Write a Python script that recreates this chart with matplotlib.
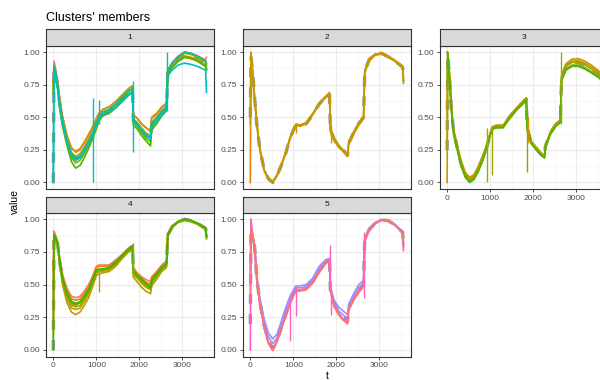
import matplotlib
matplotlib.use("Agg")
import matplotlib.pyplot as plt
from matplotlib.ticker import MultipleLocator

plt.rcParams['font.family'] = ['Liberation Sans', 'DejaVu Sans']

# shared time grid
T = [0, 15, 50, 100, 150, 220, 320, 420, 520, 620, 720, 820, 920, 1000, 1060, 1150,
     1300, 1450, 1600, 1750, 1840, 1860, 1950, 2050, 2150, 2260, 2285, 2400, 2520,
     2630, 2660, 2760, 2900, 3050, 3200, 3350, 3540, 3560]

# ---- cluster 1
p1_salmon = [0.75, 0.93, 0.88, 0.78, 0.64, 0.50, 0.36, 0.27, 0.23, 0.25, 0.30, 0.36, 0.43, 0.49, 0.53, 0.56, 0.58, 0.62, 0.67, 0.72,
             0.74, 0.52, 0.49, 0.45, 0.42, 0.39, 0.49, 0.52, 0.57, 0.60, 0.86, 0.92, 0.97, 1.00, 0.99, 0.97, 0.94, 0.96]
p1_olive = [0.70, 0.90, 0.86, 0.77, 0.63, 0.49, 0.35, 0.26, 0.24, 0.26, 0.31, 0.37, 0.43, 0.49, 0.53, 0.56, 0.58, 0.62, 0.67, 0.72,
            0.74, 0.52, 0.49, 0.45, 0.42, 0.40, 0.50, 0.53, 0.58, 0.61, 0.86, 0.91, 0.96, 0.99, 0.98, 0.96, 0.92, 0.90]
p1_olive2 = [0.72, 0.88, 0.84, 0.75, 0.61, 0.47, 0.33, 0.23, 0.20, 0.22, 0.27, 0.33, 0.40, 0.46, 0.50, 0.54, 0.56, 0.60, 0.65, 0.70,
             0.72, 0.49, 0.46, 0.42, 0.38, 0.36, 0.46, 0.50, 0.55, 0.58, 0.85, 0.89, 0.94, 0.97, 0.96, 0.94, 0.90, 0.88]
p1_green = [0.70, 0.87, 0.83, 0.73, 0.58, 0.44, 0.30, 0.19, 0.15, 0.17, 0.22, 0.29, 0.36, 0.43, 0.48, 0.52, 0.54, 0.58, 0.63, 0.68,
            0.70, 0.46, 0.43, 0.38, 0.34, 0.31, 0.42, 0.47, 0.52, 0.56, 0.84, 0.88, 0.93, 0.96, 0.95, 0.93, 0.89, 0.87]
p1_green2 = [0.68, 0.86, 0.82, 0.72, 0.56, 0.42, 0.28, 0.16, 0.11, 0.13, 0.19, 0.26, 0.34, 0.41, 0.47, 0.51, 0.53, 0.57, 0.62, 0.67,
             0.69, 0.44, 0.41, 0.36, 0.32, 0.28, 0.40, 0.45, 0.51, 0.55, 0.83, 0.88, 0.93, 0.96, 0.95, 0.93, 0.89, 0.86]
p1_teal = [0.0, 0.89, 0.85, 0.75, 0.60, 0.46, 0.32, 0.22, 0.18, 0.20, 0.25, 0.31, 0.38, 0.45, 0.50, 0.54, 0.56, 0.60, 0.65, 0.70,
           0.72, 0.48, 0.45, 0.40, 0.37, 0.34, 0.45, 0.49, 0.54, 0.58, 0.86, 0.91, 0.96, 1.00, 0.99, 0.97, 0.93, 0.91]
p1_cyan = [0.0, 0.85, 0.82, 0.72, 0.58, 0.45, 0.31, 0.21, 0.17, 0.19, 0.24, 0.30, 0.37, 0.44, 0.49, 0.52, 0.54, 0.58, 0.62, 0.67,
           0.69, 0.47, 0.44, 0.40, 0.36, 0.33, 0.43, 0.47, 0.52, 0.56, 0.82, 0.86, 0.90, 0.915, 0.905, 0.89, 0.86, 0.69]
cen1 = [0.0, 0.86, 0.83, 0.74, 0.60, 0.46, 0.32, 0.22, 0.18, 0.20, 0.25, 0.31, 0.38, 0.45, 0.50, 0.53, 0.55, 0.59, 0.64, 0.69,
        0.71, 0.47, 0.44, 0.40, 0.36, 0.33, 0.44, 0.48, 0.53, 0.57, 0.84, 0.89, 0.94, 0.975, 0.965, 0.945, 0.91, 0.88]
p1_series = [p1_salmon, p1_olive, p1_olive2, p1_green, p1_green2, p1_teal, p1_cyan]
p1_colors = ['#F8766D', '#C49A00', '#A3A500', '#7CAE00', '#53B400', '#00C094', '#00BFC4']
p1_spikes = [(930, 0.0, 0.65, '#00BFC4'), (1070, 0.45, 0.63, '#00BFC4'),
             (1850, 0.23, 0.78, '#00BFC4'), (2640, 0.55, 1.0, '#00C094')]

# ---- cluster 2
p2_gold = [0.5, 1.0, 0.88, 0.66, 0.46, 0.27, 0.10, 0.03, 0.0, 0.05, 0.13, 0.22, 0.34, 0.40, 0.45, 0.44, 0.45, 0.52, 0.60, 0.66,
           0.68, 0.40, 0.33, 0.28, 0.25, 0.20, 0.30, 0.38, 0.45, 0.50, 0.85, 0.94, 0.98, 0.995, 0.97, 0.94, 0.89, 0.76]
p2_olive = [0.45, 0.97, 0.86, 0.65, 0.45, 0.26, 0.10, 0.03, 0.01, 0.06, 0.14, 0.23, 0.34, 0.40, 0.44, 0.44, 0.46, 0.53, 0.61, 0.66,
            0.69, 0.42, 0.34, 0.29, 0.25, 0.21, 0.31, 0.39, 0.46, 0.50, 0.86, 0.95, 0.985, 0.99, 0.965, 0.935, 0.88, 0.78]
p2_orange = [0.0, 0.95, 0.84, 0.64, 0.44, 0.25, 0.09, 0.02, 0.0, 0.05, 0.13, 0.22, 0.33, 0.39, 0.44, 0.43, 0.45, 0.52, 0.60, 0.65,
             0.67, 0.39, 0.32, 0.27, 0.24, 0.20, 0.29, 0.37, 0.44, 0.49, 0.84, 0.93, 0.975, 0.985, 0.96, 0.93, 0.88, 0.80]
cen2 = [0.5, 0.96, 0.86, 0.65, 0.45, 0.26, 0.10, 0.03, 0.0, 0.05, 0.13, 0.22, 0.34, 0.40, 0.44, 0.44, 0.45, 0.52, 0.60, 0.66,
        0.68, 0.40, 0.33, 0.28, 0.25, 0.21, 0.30, 0.38, 0.45, 0.50, 0.85, 0.94, 0.98, 0.99, 0.965, 0.935, 0.885, 0.78]
p2_series = [p2_orange, p2_olive, p2_gold]
p2_colors = ['#E58700', '#B79F00', '#C49A00']
p2_spikes = [(1050, 0.38, 0.45, '#C49A00'), (1880, 0.30, 0.45, '#C49A00')]

# ---- cluster 3
p3_gold = [0.0, 1.0, 0.86, 0.58, 0.41, 0.31, 0.17, 0.08, 0.04, 0.06, 0.12, 0.20, 0.29, 0.38, 0.43, 0.44, 0.44, 0.51, 0.57, 0.62,
           0.65, 0.44, 0.32, 0.28, 0.24, 0.20, 0.29, 0.39, 0.45, 0.48, 0.82, 0.91, 0.945, 0.95, 0.93, 0.90, 0.85, 0.84]
p3_orange = [0.5, 0.99, 0.85, 0.57, 0.40, 0.30, 0.16, 0.07, 0.03, 0.05, 0.11, 0.19, 0.28, 0.37, 0.42, 0.43, 0.43, 0.50, 0.56, 0.61,
             0.64, 0.43, 0.31, 0.27, 0.23, 0.19, 0.28, 0.38, 0.44, 0.47, 0.81, 0.90, 0.93, 0.935, 0.915, 0.885, 0.84, 0.83]
p3_olive = [0.25, 0.98, 0.84, 0.56, 0.39, 0.29, 0.15, 0.06, 0.02, 0.04, 0.10, 0.18, 0.27, 0.37, 0.42, 0.43, 0.43, 0.50, 0.56, 0.61,
            0.64, 0.42, 0.31, 0.27, 0.23, 0.19, 0.28, 0.38, 0.44, 0.47, 0.80, 0.89, 0.92, 0.92, 0.90, 0.87, 0.83, 0.82]
p3_green = [0.75, 0.97, 0.83, 0.55, 0.38, 0.28, 0.14, 0.05, 0.01, 0.03, 0.09, 0.17, 0.26, 0.36, 0.41, 0.42, 0.42, 0.49, 0.55, 0.60,
            0.63, 0.41, 0.30, 0.26, 0.22, 0.19, 0.27, 0.37, 0.43, 0.46, 0.79, 0.87, 0.90, 0.90, 0.88, 0.85, 0.81, 0.80]
p3_green2 = [1.0, 0.97, 0.83, 0.55, 0.37, 0.27, 0.13, 0.04, 0.0, 0.02, 0.08, 0.16, 0.26, 0.36, 0.41, 0.42, 0.42, 0.49, 0.55, 0.60,
             0.63, 0.41, 0.30, 0.26, 0.22, 0.19, 0.27, 0.37, 0.43, 0.46, 0.78, 0.86, 0.89, 0.89, 0.87, 0.84, 0.80, 0.79]
cen3 = [0.25, 0.98, 0.84, 0.56, 0.39, 0.29, 0.15, 0.06, 0.02, 0.04, 0.10, 0.18, 0.27, 0.37, 0.42, 0.43, 0.43, 0.50, 0.56, 0.61,
        0.64, 0.42, 0.31, 0.27, 0.23, 0.19, 0.28, 0.38, 0.44, 0.47, 0.80, 0.89, 0.92, 0.92, 0.90, 0.87, 0.83, 0.82]
p3_series = [p3_gold, p3_orange, p3_olive, p3_green, p3_green2]
p3_colors = ['#C49A00', '#D89000', '#A3A500', '#7CAE00', '#53B400']
p3_spikes = [(920, 0.0, 0.42, '#A3A500'), (1050, 0.06, 0.42, '#A3A500'),
             (1850, 0.08, 0.50, '#7CAE00'), (1870, 0.30, 0.50, '#D89000'),
             (2640, 0.45, 1.0, '#A3A500')]

# ---- cluster 4
p4_pink = [0.3, 0.91, 0.88, 0.83, 0.70, 0.57, 0.47, 0.41, 0.40, 0.41, 0.45, 0.50, 0.57, 0.64, 0.65, 0.65, 0.65, 0.69, 0.73, 0.78,
           0.80, 0.63, 0.59, 0.56, 0.54, 0.52, 0.56, 0.60, 0.65, 0.68, 0.89, 0.95, 0.985, 1.0, 0.99, 0.97, 0.93, 0.88]
p4_orange = [0.6, 0.89, 0.87, 0.82, 0.69, 0.56, 0.45, 0.39, 0.38, 0.39, 0.43, 0.48, 0.56, 0.63, 0.64, 0.64, 0.64, 0.68, 0.73, 0.78,
             0.80, 0.62, 0.58, 0.55, 0.52, 0.50, 0.55, 0.59, 0.64, 0.67, 0.88, 0.95, 0.98, 0.995, 0.985, 0.965, 0.93, 0.87]
p4_gold = [0.2, 0.86, 0.85, 0.80, 0.66, 0.51, 0.39, 0.32, 0.31, 0.32, 0.37, 0.43, 0.51, 0.59, 0.60, 0.60, 0.61, 0.65, 0.71, 0.76,
           0.78, 0.58, 0.55, 0.51, 0.48, 0.46, 0.51, 0.56, 0.61, 0.64, 0.87, 0.94, 0.98, 0.995, 0.985, 0.965, 0.93, 0.86]
p4_olive = [0.1, 0.85, 0.84, 0.79, 0.64, 0.49, 0.36, 0.29, 0.27, 0.29, 0.34, 0.40, 0.49, 0.57, 0.58, 0.59, 0.60, 0.64, 0.70, 0.75,
            0.76, 0.56, 0.52, 0.48, 0.45, 0.43, 0.49, 0.54, 0.60, 0.63, 0.87, 0.94, 0.975, 0.99, 0.98, 0.96, 0.92, 0.85]
p4_lime = [0.5, 0.87, 0.85, 0.81, 0.67, 0.52, 0.41, 0.34, 0.33, 0.34, 0.39, 0.44, 0.52, 0.60, 0.61, 0.61, 0.62, 0.66, 0.71, 0.76,
           0.78, 0.59, 0.56, 0.52, 0.49, 0.47, 0.52, 0.57, 0.62, 0.65, 0.88, 0.94, 0.98, 1.0, 0.99, 0.97, 0.93, 0.86]
p4_green = [0.8, 0.87, 0.86, 0.81, 0.67, 0.53, 0.42, 0.36, 0.345, 0.36, 0.40, 0.45, 0.53, 0.60, 0.615, 0.615, 0.625, 0.665, 0.715, 0.765,
            0.785, 0.60, 0.565, 0.53, 0.50, 0.475, 0.525, 0.575, 0.625, 0.655, 0.88, 0.94, 0.98, 1.0, 0.99, 0.97, 0.93, 0.87]
p4_green2 = [0.0, 0.88, 0.86, 0.82, 0.68, 0.54, 0.43, 0.37, 0.355, 0.37, 0.41, 0.46, 0.54, 0.61, 0.62, 0.62, 0.63, 0.67, 0.72, 0.77,
             0.79, 0.61, 0.57, 0.54, 0.51, 0.48, 0.53, 0.58, 0.63, 0.66, 0.88, 0.94, 0.98, 1.0, 0.99, 0.97, 0.93, 0.87]
cen4 = [0.0, 0.87, 0.86, 0.81, 0.67, 0.53, 0.42, 0.36, 0.35, 0.36, 0.40, 0.45, 0.53, 0.60, 0.615, 0.615, 0.625, 0.665, 0.715, 0.765,
        0.785, 0.60, 0.565, 0.53, 0.50, 0.475, 0.525, 0.575, 0.625, 0.655, 0.88, 0.94, 0.98, 1.0, 0.99, 0.97, 0.93, 0.86]
p4_series = [p4_pink, p4_orange, p4_gold, p4_olive, p4_lime, p4_green, p4_green2]
p4_colors = ['#F8766D', '#E58700', '#C49A00', '#B79F00', '#A3A500', '#7CAE00', '#39B600']
p4_spikes = [(1060, 0.44, 0.62, '#C49A00'), (1850, 0.55, 0.82, '#A3A500')]

# ---- cluster 5
p5_purple = [0.6, 0.90, 0.88, 0.80, 0.58, 0.40, 0.24, 0.13, 0.085, 0.12, 0.22, 0.32, 0.41, 0.46, 0.49, 0.49, 0.50, 0.55, 0.64, 0.69,
             0.70, 0.48, 0.38, 0.33, 0.30, 0.27, 0.35, 0.43, 0.50, 0.53, 0.86, 0.93, 0.975, 1.0, 0.99, 0.965, 0.905, 0.82]
p5_violet = [0.5, 0.89, 0.87, 0.79, 0.56, 0.38, 0.21, 0.10, 0.05, 0.09, 0.19, 0.29, 0.38, 0.44, 0.475, 0.475, 0.485, 0.535, 0.62, 0.68,
             0.695, 0.47, 0.36, 0.30, 0.27, 0.24, 0.33, 0.41, 0.475, 0.51, 0.85, 0.925, 0.97, 0.995, 0.99, 0.96, 0.90, 0.81]
p5_magenta = [0.0, 1.0, 0.89, 0.79, 0.54, 0.36, 0.18, 0.06, 0.01, 0.07, 0.17, 0.26, 0.36, 0.42, 0.46, 0.46, 0.47, 0.52, 0.60, 0.67,
              0.69, 0.46, 0.34, 0.28, 0.24, 0.21, 0.31, 0.39, 0.45, 0.49, 0.84, 0.92, 0.97, 0.995, 0.99, 0.96, 0.90, 0.76]
p5_pink = [0.4, 0.88, 0.88, 0.78, 0.53, 0.35, 0.17, 0.05, -0.005, 0.06, 0.16, 0.25, 0.35, 0.41, 0.45, 0.45, 0.46, 0.51, 0.59, 0.66,
           0.68, 0.45, 0.33, 0.27, 0.23, 0.20, 0.30, 0.38, 0.44, 0.48, 0.83, 0.91, 0.965, 0.99, 0.985, 0.955, 0.895, 0.79]
p5_red = [0.8, 0.92, 0.90, 0.80, 0.55, 0.36, 0.18, 0.06, 0.0, 0.07, 0.17, 0.26, 0.36, 0.42, 0.46, 0.46, 0.47, 0.52, 0.60, 0.67,
          0.69, 0.46, 0.34, 0.28, 0.24, 0.21, 0.31, 0.39, 0.45, 0.49, 0.84, 0.92, 0.97, 0.995, 0.99, 0.96, 0.90, 0.80]
cen5 = [0.2, 0.88, 0.88, 0.79, 0.55, 0.37, 0.19, 0.07, 0.01, 0.07, 0.17, 0.27, 0.37, 0.43, 0.465, 0.465, 0.475, 0.525, 0.61, 0.675,
        0.69, 0.46, 0.35, 0.29, 0.25, 0.22, 0.32, 0.40, 0.46, 0.50, 0.85, 0.92, 0.97, 0.995, 0.99, 0.96, 0.90, 0.80]
p5_series = [p5_purple, p5_violet, p5_magenta, p5_pink, p5_red]
p5_colors = ['#A58AFF', '#9590FF', '#FF61C3', '#FF6C91', '#F8766D']
p5_spikes = [(930, 0.07, 0.40, '#FF61C3'), (1060, 0.26, 0.49, '#FF61C3'),
             (1850, 0.45, 0.80, '#FF61C3'), (1880, 0.27, 0.45, '#FF61C3'),
             (2650, 0.40, 0.90, '#FF61C3')]

panels = [('1', p1_series, p1_colors, cen1, p1_spikes),
          ('2', p2_series, p2_colors, cen2, p2_spikes),
          ('3', p3_series, p3_colors, cen3, p3_spikes),
          ('4', p4_series, p4_colors, cen4, p4_spikes),
          ('5', p5_series, p5_colors, cen5, p5_spikes)]

W, H = 600, 380
fig = plt.figure(figsize=(6, 3.8), dpi=100)


def px_box(x0, y0, x1, y1):
    return [x0 / W, 1 - y1 / H, (x1 - x0) / W, (y1 - y0) / H]


col_left = [45.7, 242.7, 439.5]
pw = 168
# strip top, panel top, panel bottom
rows = [(29, 45.5, 189), (197, 212.7, 356.5)]
edge = '#333333'

for i, (lab, series, cols, cen, spikes) in enumerate(panels):
    r, c = divmod(i, 3)
    left = col_left[c]
    stop, ptop, pbot = rows[r]

    ax = fig.add_axes(px_box(left, ptop, left + pw, pbot))
    ax.set_xlim(-177, 3727)
    ax.set_ylim(-0.05, 1.05)
    ax.xaxis.set_major_locator(MultipleLocator(1000))
    ax.xaxis.set_minor_locator(MultipleLocator(500))
    ax.set_yticks([0, 0.25, 0.5, 0.75, 1.0])
    ax.set_yticklabels(['0.00', '0.25', '0.50', '0.75', '1.00'])
    ax.yaxis.set_minor_locator(MultipleLocator(0.125))
    ax.grid(which='major', color='#EBEBEB', lw=0.8)
    ax.grid(which='minor', color='#F3F3F3', lw=0.5)
    ax.set_axisbelow(True)
    for s in ax.spines.values():
        s.set_color(edge)
        s.set_linewidth(0.8)
    ax.tick_params(which='major', direction='out', length=2.5, width=0.6, color=edge,
                   labelsize=6, labelcolor='#4D4D4D', pad=1.5)
    ax.tick_params(which='minor', length=0)
    if i < 2:
        ax.tick_params(axis='x', which='both', length=0, labelbottom=False)

    ax.plot(T, cen, color='#808080', lw=2.4, ls=(0, (3, 3)), alpha=0.85, zorder=2)
    for vals, col in zip(series, cols):
        ax.plot(T, vals, color=col, lw=1.2, zorder=3)
    for t, y0, y1, col in spikes:
        ax.vlines(t, y0, y1, color=col, lw=1.0, zorder=3)

    sax = fig.add_axes(px_box(left, stop, left + pw, ptop))
    sax.set_facecolor('#D9D9D9')
    sax.set_xticks([])
    sax.set_yticks([])
    for s in sax.spines.values():
        s.set_color(edge)
        s.set_linewidth(0.8)
    sax.text(0.5, 0.5, lab, ha='center', va='center', fontsize=6, color='#1A1A1A',
             transform=sax.transAxes)

fig.text(45.7 / W, 1 - 20.7 / H, "Clusters' members", fontsize=9, ha='left', va='baseline')
fig.text(15 / W, 1 - 201 / H, 'value', rotation=90, ha='center', va='center', fontsize=7.5)
fig.text(327 / W, 1 - 376 / H, 't', ha='center', va='center', fontsize=7.5)

fig.savefig('out.png', dpi=100)
